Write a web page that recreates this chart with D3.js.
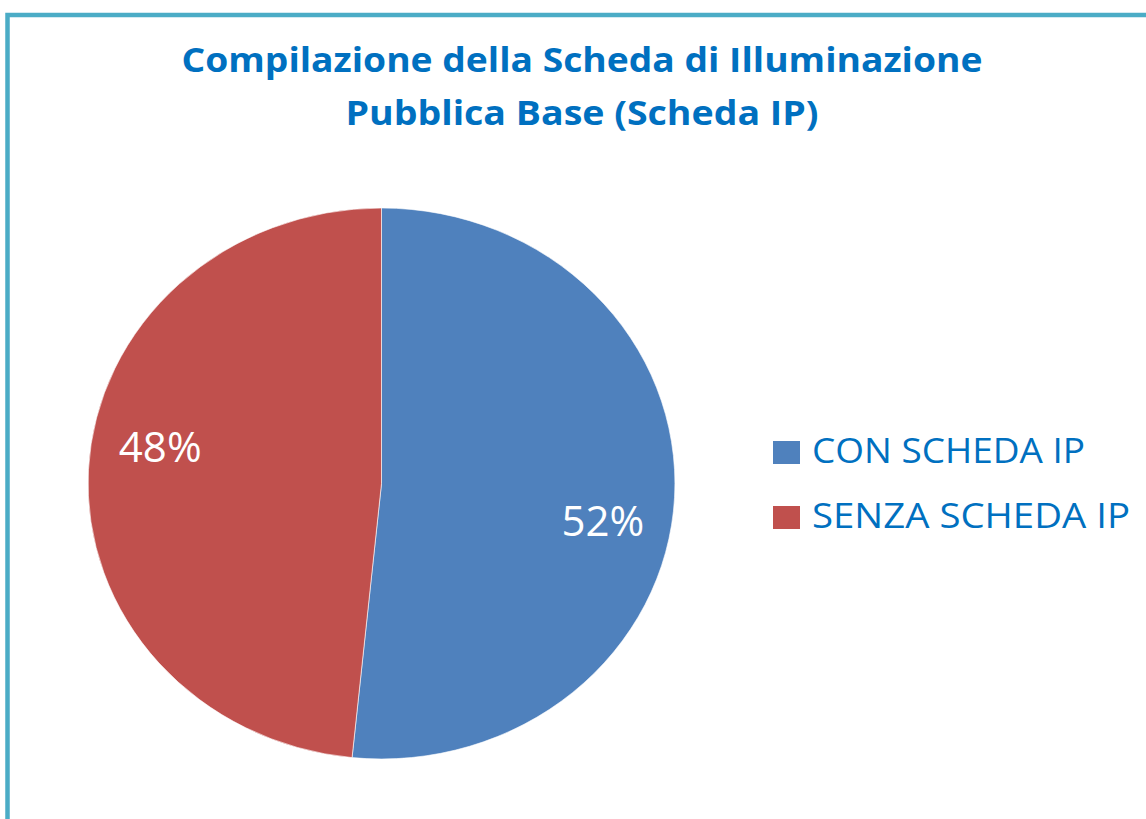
<!DOCTYPE html>
<html>
<head>
<meta charset="utf-8">
<script src="https://cdn.jsdelivr.net/npm/d3@7"></script>
<style>
  html, body { margin: 0; padding: 0; background: #fff; }
  svg { display: block; }
</style>
</head>
<body>
<script>
// chart data
var categories = ['CON SCHEDA IP', 'SENZA SCHEDA IP'];
var values = [51.6, 48.4];
var colors = ['#4F81BD', '#C0504D'];
var titleLines = ['Compilazione della Scheda di Illuminazione', 'Pubblica Base (Scheda IP)'];

var width = 1146, height = 819;
var svg = d3.select('body').append('svg')
  .attr('width', width)
  .attr('height', height);

// chart frame (cut off at right and bottom in the picture)
svg.append('rect')
  .attr('x', 7.5)
  .attr('y', 15)
  .attr('width', width + 20)
  .attr('height', height + 20)
  .style('fill', '#fff')
  .style('stroke', '#4BACC6')
  .style('stroke-width', 4.5);

// title, two centred lines
var titleWidths = [801, 473];
svg.selectAll('text.title')
  .data(titleLines)
  .enter()
  .append('text')
  .attr('class', 'title')
  .attr('x', 582)
  .attr('y', (d, i) => 72 + i * 53)
  .attr('text-anchor', 'middle')
  .attr('textLength', (d, i) => titleWidths[i])
  .attr('lengthAdjust', 'spacingAndGlyphs')
  .style('font-family', '"Open Sans", sans-serif')
  .style('font-weight', 'bold')
  .style('font-size', '34px')
  .style('fill', '#0070C0')
  .text(d => d);

// pie, slightly wider than tall like the original
var cx = 381.5, cy = 483.5, r = 275.5, sx = 1.065;
var total = d3.sum(values);
var pie = d3.pie().sort(null)(values);
var arc = d3.arc().innerRadius(0).outerRadius(r);
var labelArc = d3.arc().innerRadius(r * 0.766).outerRadius(r * 0.766);
var labelShift = 0.126; // Excel nudges the labels a little clockwise

var g = svg.append('g')
  .attr('transform', `translate(${cx},${cy})`);

g.append('g')
  .attr('transform', `scale(${sx},1)`)
  .selectAll('path')
  .data(pie)
  .enter()
  .append('path')
  .attr('d', arc)
  .style('fill', (d, i) => colors[i])
  .style('stroke', 'rgba(255,255,255,0.6)')
  .style('stroke-width', 1)
  .attr('vector-effect', 'non-scaling-stroke');

g.selectAll('text.pct')
  .data(pie)
  .enter()
  .append('text')
  .attr('class', 'pct')
  .attr('transform', d => {
    var c = labelArc.centroid({ startAngle: d.startAngle + labelShift, endAngle: d.endAngle + labelShift });
    return `translate(${c[0] * sx},${c[1]})`;
  })
  .attr('dy', '0.36em')
  .attr('text-anchor', 'middle')
  .style('font-family', '"Open Sans", sans-serif')
  .style('font-size', '42px')
  .style('fill', '#fff')
  .text(d => Math.round(d.value / total * 100) + '%');

// legend
var legendWidths = [273, 318];
var legend = svg.selectAll('g.legend')
  .data(categories)
  .enter()
  .append('g')
  .attr('class', 'legend')
  .attr('transform', (d, i) => `translate(773,${441 + i * 65})`);

legend.append('rect')
  .attr('width', 27)
  .attr('height', 23)
  .style('fill', (d, i) => colors[i]);

legend.append('text')
  .attr('x', 39)
  .attr('y', 22)
  .attr('textLength', (d, i) => legendWidths[i])
  .attr('lengthAdjust', 'spacingAndGlyphs')
  .style('font-family', '"Open Sans", sans-serif')
  .style('font-size', '35px')
  .style('fill', '#0070C0')
  .text(d => d);
</script>
</body>
</html>
